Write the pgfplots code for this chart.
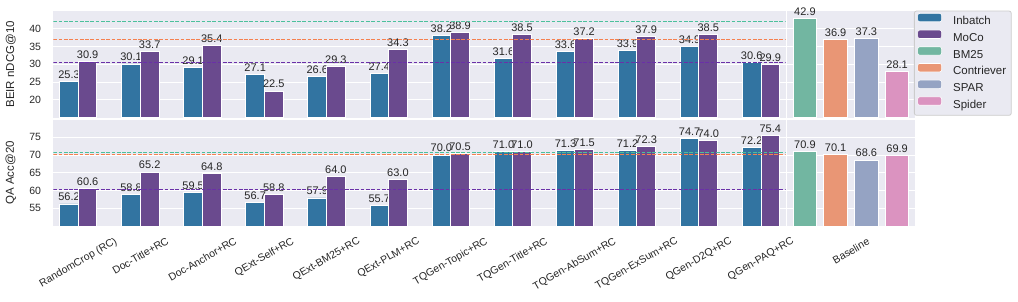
\documentclass[border=0pt]{standalone}
\usepackage{graphicx}
\usepackage{pgfplots}
\usepackage{pgfplotstable}
\pgfplotsset{compat=1.18}
\usepackage{fontspec}
\setmainfont{Liberation Sans}

\definecolor{bg}{HTML}{EAEAF2}
\definecolor{cin}{HTML}{3274A1}
\definecolor{cmo}{HTML}{6A4A8E}
\definecolor{cbm}{HTML}{72B6A1}
\definecolor{cco}{HTML}{E99675}
\definecolor{csp}{HTML}{95A3C3}
\definecolor{csd}{HTML}{DB93C0}
\definecolor{lgreen}{HTML}{4CC09C}
\definecolor{lorange}{HTML}{F5804F}
\definecolor{lpurple}{HTML}{6A30A8}
\definecolor{txt}{HTML}{262626}
\definecolor{lgd}{HTML}{CCCCCC}

\newcommand{\rl}[1]{\rotatebox{30}{#1}}

\pgfplotstableread{
x in mo qin qmo
0 25.3 30.9 56.2 60.6
1 30.1 33.7 58.8 65.2
2 29.1 35.4 59.5 64.8
3 27.1 22.5 56.7 58.8
4 26.6 29.3 57.9 64.0
5 27.4 34.3 55.7 63.0
6 38.2 38.9 70.0 70.5
7 31.6 38.5 71.0 71.0
8 33.6 37.2 71.3 71.5
9 33.9 37.9 71.2 72.3
10 34.9 38.5 74.7 74.0
11 30.6 29.9 72.2 75.4
}\datatab

\pgfkeys{/pgf/number format/assume math mode=true}

\pgfplotsset{
 sb/.style={
  scale only axis, anchor=south west,
  axis background/.style={fill=bg},
  axis line style={draw=none},
  major tick length=0pt,
  ymajorgrids, xmajorgrids=false,
  grid style={white, line width=1pt},
  tick label style={font=\fontsize{10.5}{12}\selectfont, color=txt},
  yticklabel style={xshift=-8.8pt},
  ybar, clip mode=individual,
 },
 bars/.style={fill=#1, draw=white, line width=0.9pt,
  nodes near coords,
  nodes near coords style={font=\fontsize{11}{12}\selectfont, color=txt, anchor=south, inner sep=0pt, yshift=2.5pt,
   /pgf/number format/.cd, fixed, fixed zerofill, precision=1, assume math mode=true}},
 dl/.style={sharp plot, draw=#1, color=#1, line width=1pt, dash pattern=on 3.7pt off 1.6pt, forget plot},
 lg/.style={legend image code/.code={\filldraw[fill=#1, draw=white, line width=0.6pt] (0pt,-0.2pt) rectangle (24pt,8.2pt); \path (33pt,0pt);}},
 ylab/.style={ylabel style={font=\fontsize{11.5}{13}\selectfont, color=txt, at={(axis description cs:-0.058,0.5)}, anchor=center}},
}

\begin{document}
\begin{tikzpicture}
\path[use as bounding box] (0,0) rectangle (1018pt,301pt);

% top-left
\begin{axis}[sb, at={(53.3pt,183.3pt)}, width=732.4pt, height=106.7pt,
  xmin=-0.403, xmax=11.398, ymin=15, ymax=45,
  ytick={20,25,30,35,40}, xtick=\empty,
  ylabel={BEIR nDCG@10}, ylab, bar width=0.3]
\addplot[bars=cin, bar shift=-0.15] table[x=x,y=in] {\datatab};
\addplot[bars=cmo, bar shift=0.15] table[x=x,y=mo] {\datatab};
\addplot[dl=lgreen] coordinates {(-0.403,42.05) (11.398,42.05)};
\addplot[dl=lorange] coordinates {(-0.403,36.99) (11.398,36.99)};
\addplot[dl=lpurple] coordinates {(-0.403,30.52) (11.398,30.52)};
\end{axis}

% top-right
\begin{axis}[sb, at={(787pt,183.3pt)}, width=128pt, height=106.7pt,
  xmin=-0.5, xmax=0.5, ymin=15, ymax=45,
  ytick={20,25,30,35,40}, yticklabel=\empty, xtick=\empty, bar width=0.185,
  legend cell align=left,
  legend style={at={(axis description cs:0.992,1.003)}, anchor=north west,
    fill=bg, draw=lgd, rounded corners=2pt, line width=0.8pt,
    font=\fontsize{11.5}{13}\selectfont, text=txt,
    inner xsep=3pt, inner ysep=2pt, row sep=0pt,
    nodes={inner sep=2pt, text height=9.3pt, text depth=3.1pt}}]
\addlegendimage{lg={cin}}\addlegendentry{Inbatch}
\addlegendimage{lg={cmo}}\addlegendentry{MoCo}
\addplot[bars=cbm, bar shift=0, lg={cbm}] coordinates {(-0.36,42.9)};\addlegendentry{BM25}
\addplot[bars=cco, bar shift=0, lg={cco}] coordinates {(-0.12,36.9)};\addlegendentry{Contriever}
\addplot[bars=csp, bar shift=0, lg={csp}] coordinates {(0.12,37.3)};\addlegendentry{SPAR}
\addplot[bars=csd, bar shift=0, lg={csd}] coordinates {(0.36,28.1)};\addlegendentry{Spider}
\end{axis}

% bottom-left
\begin{axis}[sb, at={(53.3pt,75pt)}, width=732.4pt, height=106.5pt,
  xmin=-0.403, xmax=11.398, ymin=50, ymax=80,
  ytick={55,60,65,70,75},
  xtick={0,...,11},
  xticklabels={\rl{RandomCrop (RC)},\rl{Doc-Title+RC},\rl{Doc-Anchor+RC},\rl{QExt-Self+RC},\rl{QExt-BM25+RC},\rl{QExt-PLM+RC},\rl{TQGen-Topic+RC},\rl{TQGen-Title+RC},\rl{TQGen-AbSum+RC},\rl{TQGen-ExSum+RC},\rl{QGen-D2Q+RC},\rl{QGen-PAQ+RC}},
  xticklabel style={anchor=north, inner sep=0pt, yshift=-10.5pt},
  ylabel={QA Acc@20}, ylab, bar width=0.3]
\addplot[bars=cin, bar shift=-0.15] table[x=x,y=qin] {\datatab};
\addplot[bars=cmo, bar shift=0.15] table[x=x,y=qmo] {\datatab};
\addplot[dl=lgreen] coordinates {(-0.403,70.75) (11.398,70.75)};
\addplot[dl=lorange] coordinates {(-0.403,70.05) (11.398,70.05)};
\addplot[dl=lpurple] coordinates {(-0.403,60.28) (11.398,60.28)};
\end{axis}

% bottom-right
\begin{axis}[sb, at={(787pt,75pt)}, width=128pt, height=106.5pt,
  xmin=-0.5, xmax=0.5, ymin=50, ymax=80,
  ytick={55,60,65,70,75}, yticklabel=\empty,
  xtick={0}, xticklabels={\rl{Baseline}},
  xticklabel style={anchor=north, inner sep=0pt, yshift=-11.2pt},
  bar width=0.185]
\addplot[bars=cbm, bar shift=0] coordinates {(-0.36,70.9)};
\addplot[bars=cco, bar shift=0] coordinates {(-0.12,70.1)};
\addplot[bars=csp, bar shift=0] coordinates {(0.12,68.6)};
\addplot[bars=csd, bar shift=0] coordinates {(0.36,69.9)};
\end{axis}
\end{tikzpicture}
\end{document}
